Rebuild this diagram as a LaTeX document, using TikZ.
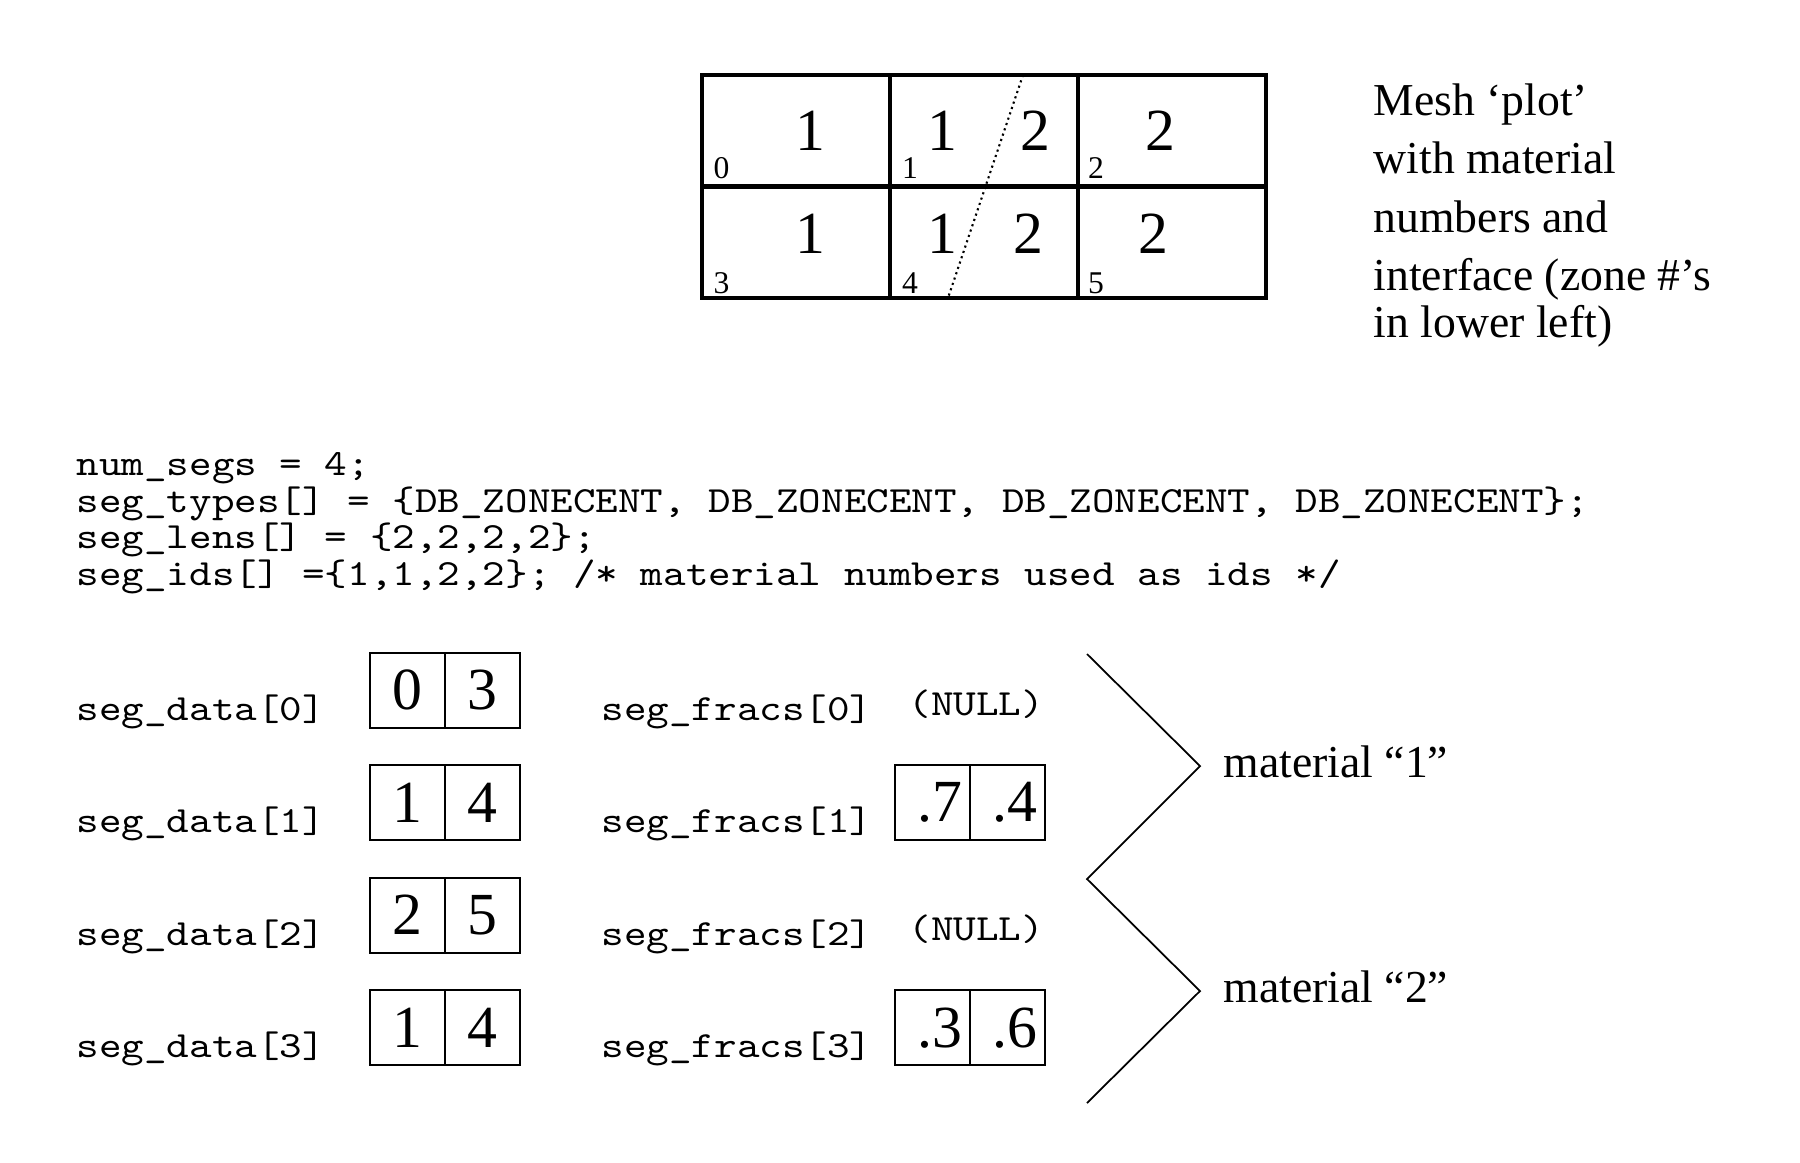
\documentclass[tikz,border=0pt]{standalone}
\usepackage{fontspec}
\setmainfont{Liberation Serif}
\setmonofont{lmmono10-regular.otf}[FakeStretch=1.165]
\usetikzlibrary{positioning,calc}
\tikzset{
  meshline/.style={line width=1.2pt, line join=miter},
  iface/.style={line width=0.6pt, densely dotted},
  matnum/.style={inner sep=0pt, anchor=base, font=\fontsize{17}{20}\selectfont},
  zonenum/.style={inner sep=0pt, anchor=base, font=\fontsize{9}{11}\selectfont},
  note/.style={inner sep=0pt, anchor=base west, font=\fontsize{13}{16}\selectfont},
  code/.style={inner sep=0pt, anchor=base west, font=\ttfamily\fontsize{10.5}{10.5}\selectfont},
  cell/.style={draw, line width=0.6pt, outer sep=0pt, inner sep=0pt,
    minimum size=0.75cm, font=\fontsize{17}{20}\selectfont},
  frac/.style={cell, text width=0.6cm, align=right},
  brace/.style={line width=0.5pt, line join=miter}
}

\begin{document}
\begin{tikzpicture}
    \useasboundingbox (0,0) rectangle (18,-11.62);

    % mesh plot
    \draw[meshline, shift={(7.02,-2.98)}] (0,0) grid[xstep=1.88, ystep=1.115] (5.64,2.23)
      (0,0) rectangle (5.64,2.23);
    \coordinate (iftop) at (10.23,-0.75);
    \coordinate (ifbot) at (9.48,-2.98);
    \draw[iface] (iftop) -- (ifbot);

    \foreach \x/\y/\m [count=\k] in {8.10/-1.50/1, 9.42/-1.50/1, 10.35/-1.50/2, 11.60/-1.50/2,
                                     8.10/-2.53/1, 9.42/-2.53/1, 10.28/-2.53/2, 11.53/-2.53/2}
      \node[matnum] (mat\k) at (\x,\y) {\m};
    \foreach \x/\y/\z in {7.215/-1.78/0, 9.10/-1.78/1, 10.96/-1.78/2,
                          7.215/-2.93/3, 9.10/-2.93/4, 10.96/-2.93/5}
      \node[zonenum] (zone\z) at (\x,\y) {\z};

    \foreach \t/\y [count=\k] in {Mesh ‘plot’/-1.15, with material/-1.73, numbers and/-2.32,
                                  interface (zone \#’s/-2.90, in lower left)/-3.37}
      \node[note] (info\k) at (13.73,\y) {\t};

    % code lines
    \node[code] (ln1) at (0.76,-4.75) {num\_segs = 4;};
    \node[code] (ln2) at (0.76,-5.12) {seg\_types[] = \{DB\_ZONECENT, DB\_ZONECENT, DB\_ZONECENT, DB\_ZONECENT\};};
    \node[code] (ln3) at (0.76,-5.48) {seg\_lens[] = \{2,2,2,2\};};
    \node[code] (ln4) at (0.76,-5.85) {seg\_ids[] =\{1,1,2,2\}; /* material numbers used as ids */};

    % segment arrays
    \foreach \i/\a/\b in {0/0/3, 1/1/4, 2/2/5, 3/1/4} {
      \node[code] (sd\i) at (0.76,{-7.20-1.125*\i}) {seg\_data[\i]};
      \node[cell] (dl\i) at (4.075,{-6.902-1.125*\i}) {\a};
      \node[cell, right=0pt of dl\i] (dr\i) {\b};
      \node[code] (sf\i) at (6.01,{-7.20-1.125*\i}) {seg\_fracs[\i]};
    }
    \foreach \i in {0,2}
      \node[code] (null\i) at (9.08,{-7.15-1.125*\i}) {(NULL)};
    \foreach \i/\a/\b in {1/.7/.4, 3/.3/.6} {
      \node[frac] (fl\i) at (9.325,{-6.902-1.125*\i}) {\a};
      \node[frac, right=0pt of fl\i] (fr\i) {\b};
    }

    % material groups
    \coordinate (z1) at (10.87,-6.54);
    \coordinate (z2) at (12.00,-7.66);
    \coordinate (z3) at (10.87,-8.79);
    \coordinate (z4) at (12.00,-9.91);
    \coordinate (z5) at (10.87,-11.03);
    \draw[brace] (z1) -- (z2) -- (z3) -- (z4) -- (z5);
    \node[note] (mat1) at (12.23,-7.77) {material “1”};
    \node[note] (mat2) at (12.23,-10.02) {material “2”};
\end{tikzpicture}
\end{document}
